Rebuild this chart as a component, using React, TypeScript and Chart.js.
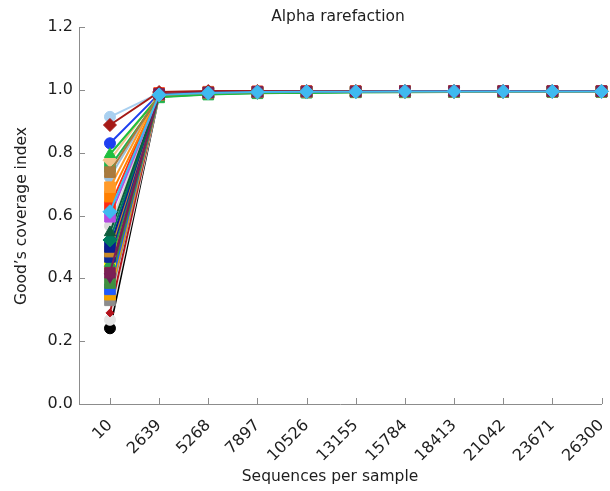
import React, { useEffect, useRef } from 'react';
import { Chart, registerables } from 'chart.js';

Chart.register(...registerables);

const categories = ['10', '2639', '5268', '7897', '10526', '13155', '15784', '18413', '21042', '23671', '26300'];
const yTickValues = [0, 0.2, 0.4, 0.6, 0.8, 1.0, 1.2];

const chartTitle = 'Alpha rarefaction';
const xTitle = 'Sequences per sample';
const yTitle = 'Good\u2019s coverage index';

// one array per sample (Good's coverage at each depth)
const sSky = [0.612, 0.984, 0.990, 0.993, 0.994, 0.994, 0.995, 0.995, 0.995, 0.995, 0.995];
const sMaroon = [0.418, 0.987, 0.992, 0.994, 0.995, 0.995, 0.996, 0.996, 0.996, 0.996, 0.996];
const sBrown = [0.738, 0.983, 0.990, 0.992, 0.993, 0.994, 0.994, 0.994, 0.994, 0.994, 0.994];
const sDarkRed = [0.888, 0.993, 0.996, 0.996, 0.996, 0.996, 0.996, 0.996, 0.996, 0.996, 0.996];
const sGreenTri = [0.795, 0.978, 0.986, 0.990, 0.991, 0.992, 0.993, 0.993, 0.993, 0.994, 0.994];
const sTan = [0.776, 0.986, 0.992, 0.994, 0.994, 0.995, 0.995, 0.995, 0.995, 0.995, 0.995];
const sGreenSq = [0.755, 0.976, 0.985, 0.989, 0.991, 0.992, 0.992, 0.993, 0.993, 0.993, 0.993];
const sOrangeLight = [0.690, 0.988, 0.993, 0.994, 0.995, 0.995, 0.996, 0.996, 0.996, 0.996, 0.996];
const sOrange = [0.660, 0.982, 0.989, 0.992, 0.993, 0.993, 0.994, 0.994, 0.994, 0.994, 0.994];
const sRed = [0.628, 0.990, 0.994, 0.995, 0.996, 0.996, 0.996, 0.996, 0.996, 0.996, 0.996];
const sPurple = [0.596, 0.984, 0.991, 0.993, 0.994, 0.994, 0.994, 0.995, 0.995, 0.995, 0.995];
const sDarkGreen = [0.546, 0.981, 0.989, 0.991, 0.992, 0.993, 0.993, 0.994, 0.994, 0.994, 0.994];
const sTeal = [0.522, 0.983, 0.990, 0.992, 0.993, 0.994, 0.994, 0.994, 0.994, 0.995, 0.995];
const sNavy = [0.500, 0.985, 0.991, 0.993, 0.994, 0.994, 0.995, 0.995, 0.995, 0.995, 0.995];
const sOchre = [0.485, 0.987, 0.992, 0.994, 0.994, 0.995, 0.995, 0.995, 0.995, 0.995, 0.995];
const sRoyal = [0.468, 0.982, 0.990, 0.992, 0.993, 0.993, 0.994, 0.994, 0.994, 0.994, 0.994];
const sGrass = [0.448, 0.980, 0.988, 0.991, 0.992, 0.993, 0.993, 0.993, 0.994, 0.994, 0.994];
const sYellow = [0.437, 0.986, 0.992, 0.993, 0.994, 0.994, 0.995, 0.995, 0.995, 0.995, 0.995];
const sPlum = [0.405, 0.988, 0.993, 0.994, 0.995, 0.995, 0.995, 0.996, 0.996, 0.996, 0.996];
const sOlive = [0.385, 0.981, 0.989, 0.991, 0.992, 0.993, 0.993, 0.994, 0.994, 0.994, 0.994];
const sBrightBlue = [0.365, 0.985, 0.991, 0.993, 0.994, 0.994, 0.995, 0.995, 0.995, 0.995, 0.995];
const sAmber = [0.348, 0.983, 0.990, 0.992, 0.993, 0.994, 0.994, 0.994, 0.994, 0.995, 0.995];
const sGray = [0.330, 0.986, 0.991, 0.993, 0.994, 0.994, 0.994, 0.995, 0.995, 0.995, 0.995];
const sCrimson = [0.290, 0.989, 0.993, 0.995, 0.995, 0.996, 0.996, 0.996, 0.996, 0.996, 0.996];
const sLightBlue = [0.914, 0.989, 0.994, 0.995, 0.995, 0.996, 0.996, 0.996, 0.996, 0.996, 0.996];
const sBlue = [0.830, 0.987, 0.992, 0.994, 0.995, 0.995, 0.995, 0.995, 0.996, 0.996, 0.996];
const sPaleBlue = [0.722, 0.983, 0.990, 0.992, 0.993, 0.994, 0.994, 0.994, 0.995, 0.995, 0.995];
const sSilver = [0.567, 0.986, 0.992, 0.993, 0.994, 0.994, 0.995, 0.995, 0.995, 0.995, 0.995];
const sWhiteGray = [0.268, 0.984, 0.990, 0.992, 0.993, 0.994, 0.994, 0.994, 0.995, 0.995, 0.995];
const sBlack = [0.241, 0.982, 0.989, 0.992, 0.993, 0.993, 0.994, 0.994, 0.994, 0.994, 0.994];

// first entry is drawn on top
const seriesList = [
  { values: sSky, color: '#3fbaf0', style: 'rectRot', rot: 0, r: 7 },
  { values: sMaroon, color: '#7a1f55', style: 'rect', rot: 0, r: 7.5 },
  { values: sBrown, color: '#a87a3e', style: 'rect', rot: 0, r: 7.5 },
  { values: sDarkRed, color: '#a51a16', style: 'rectRot', rot: 0, r: 6.5 },
  { values: sGreenTri, color: '#1fbf3f', style: 'triangle', rot: 0, r: 6.5 },
  { values: sTan, color: '#f3c38c', style: 'rectRot', rot: 0, r: 7 },
  { values: sGreenSq, color: '#23b24b', style: 'rect', rot: 0, r: 7.5 },
  { values: sOrangeLight, color: '#ff9a2a', style: 'rect', rot: 0, r: 7.5 },
  { values: sOrange, color: '#ff7f00', style: 'rect', rot: 0, r: 7.5 },
  { values: sRed, color: '#ff2a12', style: 'rect', rot: 0, r: 7.5 },
  { values: sPurple, color: '#b44be1', style: 'rect', rot: 0, r: 7.5 },
  { values: sDarkGreen, color: '#0d5c3c', style: 'triangle', rot: 0, r: 6.5 },
  { values: sTeal, color: '#007b5e', style: 'rectRot', rot: 0, r: 7 },
  { values: sNavy, color: '#0a1f8f', style: 'rect', rot: 0, r: 7.5 },
  { values: sOchre, color: '#c98a2a', style: 'rect', rot: 0, r: 7.5 },
  { values: sRoyal, color: '#0c2a9c', style: 'rect', rot: 0, r: 7.5 },
  { values: sGrass, color: '#2aa048', style: 'triangle', rot: 0, r: 6.5 },
  { values: sYellow, color: '#ffee00', style: 'rect', rot: 0, r: 7.5 },
  { values: sPlum, color: '#6b1d5b', style: 'triangle', rot: 180, r: 6.5 },
  { values: sOlive, color: '#3f8f3f', style: 'rect', rot: 0, r: 7.5 },
  { values: sBrightBlue, color: '#1f5bff', style: 'rect', rot: 0, r: 7.5 },
  { values: sAmber, color: '#f2a200', style: 'rect', rot: 0, r: 7.5 },
  { values: sGray, color: '#8c8c8c', style: 'rect', rot: 0, r: 7.5 },
  { values: sCrimson, color: '#b3121b', style: 'rectRot', rot: 0, r: 4 },
  { values: sLightBlue, color: '#a9d0f0', style: 'circle', rot: 0, r: 5.5 },
  { values: sBlue, color: '#1e3ff0', style: 'circle', rot: 0, r: 5.5 },
  { values: sPaleBlue, color: '#9cc0dc', style: 'circle', rot: 0, r: 5.5 },
  { values: sSilver, color: '#d9d9d9', style: 'circle', rot: 0, r: 5.5 },
  { values: sWhiteGray, color: '#e4e4e4', style: 'circle', rot: 0, r: 5.5 },
  { values: sBlack, color: '#000000', style: 'circle', rot: 0, r: 5.5 },
];

const FONT = "'DejaVu Sans', sans-serif";
const AXIS_COLOR = '#8c8c8c';
const TEXT_COLOR = '#1e1e1e';

const decorPlugin = {
  id: 'decor',
  afterDatasetsDraw(chart: any) {
    const { ctx, chartArea, scales } = chart;
    const x = scales.x;
    const y = scales.y;
    ctx.save();
    ctx.strokeStyle = AXIS_COLOR;
    ctx.lineWidth = 1;
    ctx.beginPath();
    categories.forEach((_, i) => {
      const px = Math.round(x.getPixelForValue(i)) + 0.5;
      ctx.moveTo(px, chartArea.bottom);
      ctx.lineTo(px, chartArea.bottom - 6);
    });
    yTickValues.forEach((v) => {
      const py = Math.round(y.getPixelForValue(v)) + 0.5;
      ctx.moveTo(chartArea.left, py);
      ctx.lineTo(chartArea.left + 6, py);
    });
    ctx.stroke();
    ctx.restore();
  },
  afterDraw(chart: any) {
    const { ctx } = chart;
    ctx.save();
    ctx.fillStyle = TEXT_COLOR;
    ctx.textAlign = 'center';
    ctx.textBaseline = 'middle';
    ctx.font = `15.5px ${FONT}`;
    ctx.fillText(chartTitle, 338, 17);
    ctx.fillText(xTitle, 330, 477);
    ctx.translate(22, 216);
    ctx.rotate(-Math.PI / 2);
    ctx.fillText(yTitle, 0, 0);
    ctx.restore();
  },
};

export default function App() {
  const ref = useRef<HTMLCanvasElement>(null);
  useEffect(() => {
    document.body.style.margin = '0';
    const canvas = ref.current;
    if (!canvas) return;
    const chart = new Chart(canvas, {
      type: 'line',
      data: {
        datasets: seriesList.map((s) => ({
          data: s.values.map((v, i) => ({ x: i, y: v })),
          borderColor: s.color,
          backgroundColor: s.color,
          pointBackgroundColor: s.color,
          pointBorderColor: s.color,
          pointStyle: s.style as any,
          pointRotation: s.rot,
          pointRadius: s.r,
          pointBorderWidth: 1,
          borderWidth: 2,
          tension: 0,
          clip: false as any,
        })),
      },
      options: {
        animation: false,
        responsive: false,
        devicePixelRatio: 1,
        layout: { padding: { top: 27, right: 8, left: 0, bottom: 0 } },
        plugins: { legend: { display: false }, tooltip: { enabled: false }, title: { display: false } },
        scales: {
          x: {
            type: 'linear',
            min: -0.63,
            max: 10,
            afterBuildTicks: (s: any) => {
              s.ticks = categories.map((_, i) => ({ value: i }));
            },
            afterFit: (s: any) => {
              s.height = 87;
              s.paddingLeft = 0;
              s.paddingRight = 0;
            },
            grid: { display: false, drawTicks: false },
            border: { display: true, color: AXIS_COLOR, width: 1 },
            ticks: {
              autoSkip: false,
              maxRotation: 45,
              minRotation: 45,
              padding: 12,
              color: TEXT_COLOR,
              font: { family: FONT, size: 16 },
              callback: (v: any) => categories[Math.round(Number(v))] ?? '',
            },
          },
          y: {
            min: 0,
            max: 1.2,
            afterBuildTicks: (s: any) => {
              s.ticks = yTickValues.map((v) => ({ value: v }));
            },
            afterFit: (s: any) => {
              s.width = 79;
            },
            grid: { display: false, drawTicks: false },
            border: { display: true, color: AXIS_COLOR, width: 1 },
            ticks: {
              padding: 6,
              color: TEXT_COLOR,
              font: { family: FONT, size: 16 },
              callback: (v: any) => Number(v).toFixed(1),
            },
          },
        },
      },
      plugins: [decorPlugin],
    });
    return () => chart.destroy();
  }, []);
  return (
    <div style={{ width: 610, height: 491, position: 'relative' }}>
      <canvas ref={ref} width={610} height={491} style={{ display: 'block' }} />
    </div>
  );
}
